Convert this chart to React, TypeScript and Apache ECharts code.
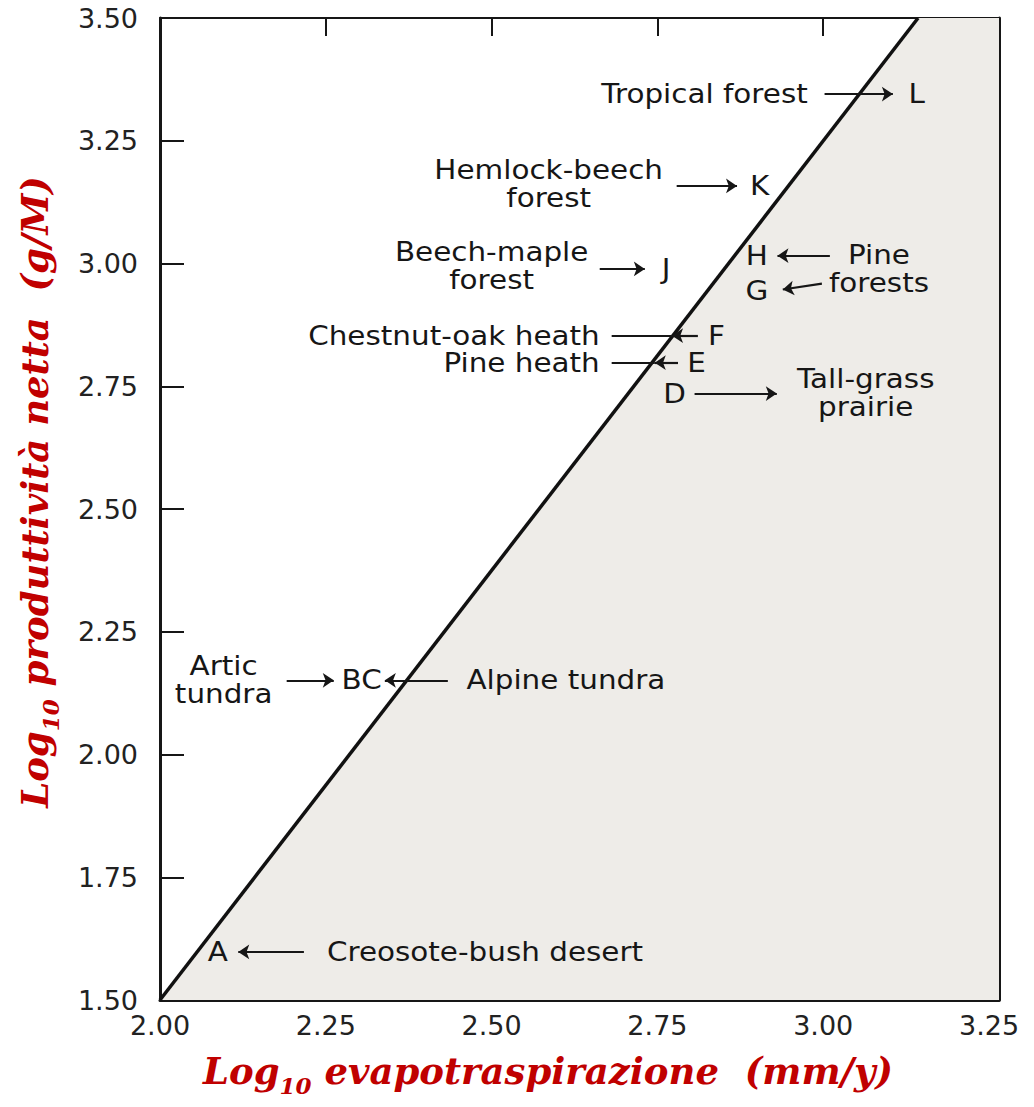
import React, { useEffect, useRef } from "react";
import * as echarts from "echarts";

// Axis ranges and ticks
const xTicks = [2.0, 2.25, 2.5, 2.75, 3.0, 3.25];
const yTicks = [1.5, 1.75, 2.0, 2.25, 2.5, 2.75, 3.0, 3.25, 3.5];
const xMin = 2.0;
const xMax = 3.265;
const yMin = 1.5;
const yMax = 3.5;

// Boundary line (log productivity vs log evapotranspiration)
const boundaryX = [2.0, 3.143];
const boundaryY = [1.5, 3.5];

// Community labels (text, position)
const labelTexts = [
  "Tropical forest",
  "Hemlock-beech\nforest",
  "Beech-maple\nforest",
  "Pine\nforests",
  "Chestnut-oak heath",
  "Pine heath",
  "Tall-grass\nprairie",
  "Artic\ntundra",
  "Alpine tundra",
  "Creosote-bush desert",
];
const labelX = [2.821, 2.586, 2.5, 3.084, 2.663, 2.663, 3.064, 2.096, 2.612, 2.49];
const labelY = [3.345, 3.162, 2.995, 2.989, 2.853, 2.798, 2.737, 2.151, 2.151, 1.598];
const labelAlign = ["center", "center", "center", "center", "right", "right", "center", "center", "center", "center"];

// Point letters
const letters = ["L", "K", "J", "H", "G", "F", "E", "D", "BC", "A"];
const letterX = [3.141, 2.904, 2.763, 2.9, 2.9, 2.839, 2.809, 2.776, 2.304, 2.087];
const letterY = [3.345, 3.158, 2.989, 3.016, 2.945, 2.853, 2.798, 2.735, 2.151, 1.598];

// Arrows: from (x1,y1) to head at (x2,y2)
const arrowX1 = [3.002, 2.779, 2.663, 3.01, 2.998, 2.811, 2.781, 2.806, 2.191, 2.434, 2.217];
const arrowY1 = [3.345, 3.158, 2.989, 3.016, 2.959, 2.853, 2.798, 2.735, 2.151, 2.151, 1.598];
const arrowX2 = [3.105, 2.87, 2.731, 2.931, 2.939, 2.772, 2.746, 2.93, 2.262, 2.339, 2.118];
const arrowY2 = [3.345, 3.158, 2.989, 3.016, 2.947, 2.853, 2.798, 2.735, 2.151, 2.151, 1.598];

// Plain connector segments (no head)
const plainX1 = [2.681, 2.681];
const plainY1 = [2.853, 2.798];
const plainX2 = [2.772, 2.746];
const plainY2 = [2.853, 2.798];

const INK = "#161616";
const RED = "#c00000";
const SHADE = "#eeece8";
const LABEL_FONT = 'normal 27px "DejaVu Sans"';
const TEXT_SCALE_X = 1.09;

export default function App() {
  const ref = useRef<HTMLDivElement>(null);

  useEffect(() => {
    if (!ref.current) return;
    const chart = echarts.init(ref.current, null, { renderer: "svg" });

    const fmt = (v: number) => {
      const hit = xTicks.concat(yTicks).some((t) => Math.abs(t - v) < 1e-6);
      return hit ? v.toFixed(2) : "";
    };

    const axisCommon = {
      type: "value" as const,
      splitLine: { show: false },
      axisLine: { show: true, lineStyle: { color: INK, width: 3 } },
      axisTick: { show: true, inside: true, lineStyle: { color: INK, width: 2 } },
    };

    const tickLabel = {
      show: true,
      formatter: fmt,
      color: "#222",
      fontFamily: "DejaVu Sans",
      fontSize: 27,
      showMinLabel: true,
      showMaxLabel: true,
    };

    const richTitle = {
      a: {
        fontFamily: "DejaVu Serif",
        fontStyle: "italic",
        fontWeight: "bold",
        fontSize: 37,
        fill: RED,
        verticalAlign: "bottom",
      },
      s: {
        fontFamily: "DejaVu Serif",
        fontStyle: "italic",
        fontWeight: "bold",
        fontSize: 23,
        fill: RED,
        verticalAlign: "bottom",
        padding: [0, 0, -8, 0],
      },
    };

    const option: any = {
      animation: false,
      backgroundColor: "#ffffff",
      grid: { left: 160, right: 35, top: 18, bottom: 107, containLabel: false },
      xAxis: [
        {
          ...axisCommon,
          position: "bottom",
          min: xMin,
          max: xMax,
          interval: 0.25,
          axisTick: { ...axisCommon.axisTick, length: 18 },
          axisLabel: { ...tickLabel, margin: 12 },
        },
        {
          ...axisCommon,
          position: "top",
          min: xMin,
          max: xMax,
          interval: 0.25,
          axisLine: { show: true, lineStyle: { color: INK, width: 2 } },
          axisTick: { ...axisCommon.axisTick, length: 18 },
          axisLabel: { show: false },
        },
      ],
      yAxis: [
        {
          ...axisCommon,
          position: "left",
          min: yMin,
          max: yMax,
          interval: 0.25,
          axisTick: { ...axisCommon.axisTick, length: 24 },
          axisLabel: { ...tickLabel, margin: 22 },
        },
        {
          ...axisCommon,
          position: "right",
          min: yMin,
          max: yMax,
          interval: 0.25,
          axisTick: { ...axisCommon.axisTick, length: 26 },
          axisLabel: { show: false },
        },
      ],
      series: [
        {
          type: "line",
          xAxisIndex: 0,
          yAxisIndex: 0,
          data: [
            [boundaryX[0], boundaryY[0]],
            [boundaryX[1], boundaryY[1]],
            [xMax, yMax],
          ],
          symbol: "none",
          lineStyle: { width: 0, opacity: 0 },
          areaStyle: { color: SHADE, opacity: 1, origin: "start" },
          z: 1,
          silent: true,
        },
        {
          type: "line",
          xAxisIndex: 0,
          yAxisIndex: 0,
          data: boundaryX.map((x, i) => [x, boundaryY[i]]),
          symbol: "none",
          lineStyle: { color: "#111", width: 3.5 },
          z: 3,
          silent: true,
        },
        {
          type: "lines",
          coordinateSystem: "cartesian2d",
          xAxisIndex: 0,
          yAxisIndex: 0,
          symbol: ["none", "arrow"],
          symbolSize: 11,
          lineStyle: { color: INK, width: 2.2, opacity: 1, curveness: 0 },
          data: arrowX1.map((x, i) => ({
            coords: [
              [x, arrowY1[i]],
              [arrowX2[i], arrowY2[i]],
            ],
          })),
          z: 4,
          silent: true,
        },
        {
          type: "lines",
          coordinateSystem: "cartesian2d",
          xAxisIndex: 0,
          yAxisIndex: 0,
          symbol: ["none", "none"],
          lineStyle: { color: INK, width: 2.2, opacity: 1, curveness: 0 },
          data: plainX1.map((x, i) => ({
            coords: [
              [x, plainY1[i]],
              [plainX2[i], plainY2[i]],
            ],
          })),
          z: 4,
          silent: true,
        },
        {
          type: "custom",
          xAxisIndex: 0,
          yAxisIndex: 0,
          data: labelX.map((x, i) => [x, labelY[i]]),
          renderItem: (params: any, api: any) => {
            const p = api.coord([api.value(0), api.value(1)]);
            const i = params.dataIndex;
            return {
              type: "text",
              x: p[0],
              y: p[1],
              scaleX: TEXT_SCALE_X,
              style: {
                text: labelTexts[i],
                align: labelAlign[i],
                verticalAlign: "middle",
                font: LABEL_FONT,
                fill: INK,
                lineHeight: 28,
              },
            };
          },
          z: 5,
          silent: true,
        },
        {
          type: "custom",
          xAxisIndex: 0,
          yAxisIndex: 0,
          data: letterX.map((x, i) => [x, letterY[i]]),
          renderItem: (params: any, api: any) => {
            const p = api.coord([api.value(0), api.value(1)]);
            const i = params.dataIndex;
            return {
              type: "text",
              x: p[0],
              y: p[1],
              scaleX: TEXT_SCALE_X,
              style: {
                text: letters[i],
                align: "center",
                verticalAlign: "middle",
                font: LABEL_FONT,
                fill: INK,
              },
            };
          },
          z: 5,
          silent: true,
        },
      ],
      graphic: [
        {
          type: "text",
          left: 203,
          top: 1052,
          style: {
            text: "{a|Log}{s|10}{a| evapotraspirazione  (mm/y)}",
            rich: richTitle,
          },
        },
        {
          type: "text",
          x: 35,
          y: 492,
          rotation: Math.PI / 2,
          style: {
            text: "{a|Log}{s|10}{a| produttività netta  (g/M)}",
            align: "center",
            verticalAlign: "middle",
            rich: richTitle,
          },
        },
      ],
    };

    chart.setOption(option);
    return () => chart.dispose();
  }, []);

  return (
    <div
      ref={ref}
      style={{ position: "fixed", left: 0, top: 0, width: 1034, height: 1107, background: "#fff" }}
    />
  );
}
